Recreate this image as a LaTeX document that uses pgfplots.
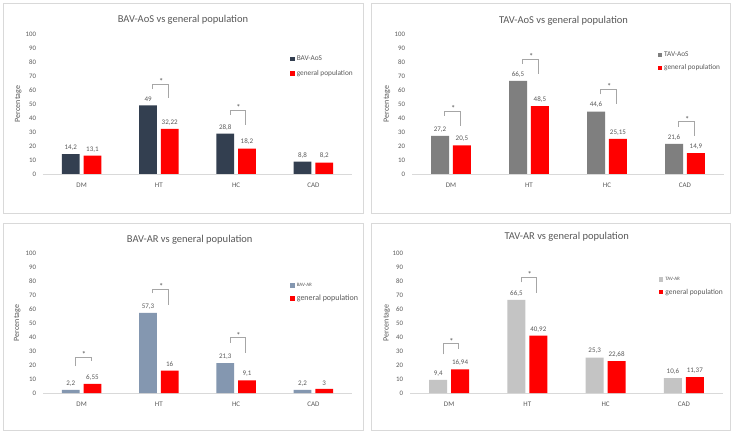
\documentclass[border=0pt]{standalone}
\usepackage{pgfplots}
\pgfplotsset{compat=1.18}
\usepackage{fontspec}
\setmainfont{Carlito}
\definecolor{txt}{HTML}{595959}
\definecolor{axg}{HTML}{D9D9D9}
\definecolor{brd}{HTML}{D9D9D9}
\definecolor{brk}{HTML}{A6A6A6}
\definecolor{c1}{HTML}{333F50}
\definecolor{c2}{HTML}{7F7F7F}
\definecolor{c3}{HTML}{8497B0}
\definecolor{c4}{HTML}{C4C4C4}
\definecolor{rd}{HTML}{FF0000}
\pgfplotsset{
 panel/.style={
  scale only axis, height=140pt,
  ybar, bar width=0.23,
  xmin=-0.5, xmax=3.5, ymin=0, ymax=100, enlargelimits=false,
  xtick={0,1,2,3}, xticklabels={DM,HT,HC,CAD},
  ytick={0,10,...,100},
  axis x line=bottom, axis y line=left,
  x axis line style={draw=axg,-,line width=0.8pt},
  y axis line style={draw=none},
  major tick length=0pt, tick style={draw=none},
  tick label style={text=txt},
  xticklabel style={font=\fontsize{7}{8}\selectfont, yshift=-5pt},
  yticklabel style={font=\fontsize{6.8}{7}\selectfont, xshift=-3.5pt},
  ylabel={Percentage},
  ylabel style={font=\fontsize{8}{9}\selectfont, text=txt, anchor=center},
  /pgf/number format/.cd, use comma, fixed, precision=2, assume math mode=true, 1000 sep={}, /pgfplots/.cd,
  nodes near coords,
  nodes near coords style={font=\fontsize{7}{8}\selectfont, text=txt, anchor=south, inner sep=1pt, yshift=2.5pt},
  legend style={draw=none, fill=none, font=\fontsize{7.3}{8}\selectfont, text=txt, anchor=north west, row sep=3pt, inner sep=0pt},
  legend cell align=left,
  clip=false,
 },
 sq/.style={legend image code/.code={\fill[##1,draw=none] (0pt,-2.2pt) rectangle (4.4pt,2.2pt);}},
}
\newcommand{\sig}[6]{%
 \draw[brk, line width=0.7pt] (axis cs:#1,#4) |- (axis cs:#2,#5) -- (axis cs:#2,#6);
 \node[text=txt, font=\fontsize{8.5}{8}\selectfont, anchor=base, inner sep=0pt, yshift=-0.5pt] at (axis cs:#3,#5) {*};}
\begin{document}
\begin{tikzpicture}
\fill[white] (0pt,0pt) rectangle (734pt,434pt);
\useasboundingbox (0pt,0pt) rectangle (734pt,434pt);
\draw[brd, line width=0.75pt] (3pt,431pt) rectangle (363pt,221pt);
\draw[brd, line width=0.75pt] (371pt,431pt) rectangle (730pt,221pt);
\draw[brd, line width=0.75pt] (3pt,211pt) rectangle (363pt,4pt);
\draw[brd, line width=0.75pt] (371pt,211pt) rectangle (730pt,4pt);
% Panel 1
\begin{axis}[panel, at={(43pt,260pt)}, anchor=south west, width=309pt,
  ylabel style={at={(axis description cs:-0.08,0.5)}},
  legend style={at={(0.80,0.86)}, row sep=4pt}]
\addplot[fill=c1, draw=none, bar shift=-0.14, sq] coordinates {(0,14.2) (1,49) (2,28.8) (3,8.8)};
\addplot[fill=rd, draw=none, bar shift=0.14, sq] coordinates {(0,13.1) (1,32.22) (2,18.2) (3,8.2)};
\legend{BAV-AoS, general population}
\sig{0.92}{1.12}{1.03}{60.7}{64.3}{54.3}
\sig{1.92}{2.12}{2.03}{42.1}{45.7}{35}
\end{axis}
\node[font=\fontsize{10.5}{12}\selectfont, text=txt] at (183pt,414pt) {BAV-AoS vs general population};
% Panel 2
\begin{axis}[panel, at={(412pt,260pt)}, anchor=south west, width=312pt,
  ylabel style={at={(axis description cs:-0.08,0.5)}},
  legend style={at={(0.787,0.89)}}]
\addplot[fill=c2, draw=none, bar shift=-0.14, sq] coordinates {(0,27.2) (1,66.5) (2,44.6) (3,21.6)};
\addplot[fill=rd, draw=none, bar shift=0.14, sq] coordinates {(0,20.5) (1,48.5) (2,25.15) (3,14.9)};
\legend{TAV-AoS, general population}
\sig{-0.08}{0.12}{0.03}{41.7}{45}{34.3}
\sig{0.92}{1.12}{1.03}{78.6}{82.1}{71.4}
\sig{1.92}{2.12}{2.03}{56.9}{60.5}{50}
\sig{2.92}{3.12}{3.03}{33.8}{37.4}{27.1}
\end{axis}
\node[font=\fontsize{10.5}{12}\selectfont, text=txt] at (563.5pt,413.5pt) {TAV-AoS vs general population};
% Panel 3
\begin{axis}[panel, at={(43pt,41pt)}, anchor=south west, width=309pt,
  ylabel style={at={(axis description cs:-0.083,0.5)}},
  legend style={at={(0.80,0.80)}}]
\addplot[fill=c3, draw=none, bar shift=-0.14, sq] coordinates {(0,2.2) (1,57.3) (2,21.3) (3,2.2)};
\addplot[fill=rd, draw=none, bar shift=0.14, sq] coordinates {(0,6.55) (1,16) (2,9.1) (3,3)};
\legend{{\fontsize{5}{6}\selectfont BAV-AR}, {\fontsize{8}{9}\selectfont general population}}
\sig{-0.08}{0.12}{0.03}{19.2}{25.7}{22.8}
\sig{0.92}{1.12}{1.03}{71.3}{74.3}{63.2}
\sig{1.92}{2.12}{2.03}{35.9}{39.4}{28.7}
\end{axis}
\node[font=\fontsize{10.5}{12}\selectfont, text=txt] at (189.7pt,194.3pt) {BAV-AR vs general population};
% Panel 4
\begin{axis}[panel, at={(410pt,41pt)}, anchor=south west, width=313pt,
  ylabel style={at={(axis description cs:-0.074,0.5)}},
  legend style={at={(0.795,0.843)}}]
\addplot[fill=c4, draw=none, bar shift=-0.14, sq] coordinates {(0,9.4) (1,66.5) (2,25.3) (3,10.6)};
\addplot[fill=rd, draw=none, bar shift=0.14, sq] coordinates {(0,16.94) (1,40.92) (2,22.68) (3,11.37)};
\legend{{\fontsize{5}{6}\selectfont TAV-AR}, {\fontsize{7.5}{8}\selectfont general population}}
\sig{-0.08}{0.12}{0.03}{27.6}{35.2}{31.6}
\sig{0.92}{1.12}{1.03}{79.1}{82.7}{71.5}
\end{axis}
\node[font=\fontsize{10.5}{12}\selectfont, text=txt] at (566.7pt,197pt) {TAV-AR vs general population};
\end{tikzpicture}
\end{document}
